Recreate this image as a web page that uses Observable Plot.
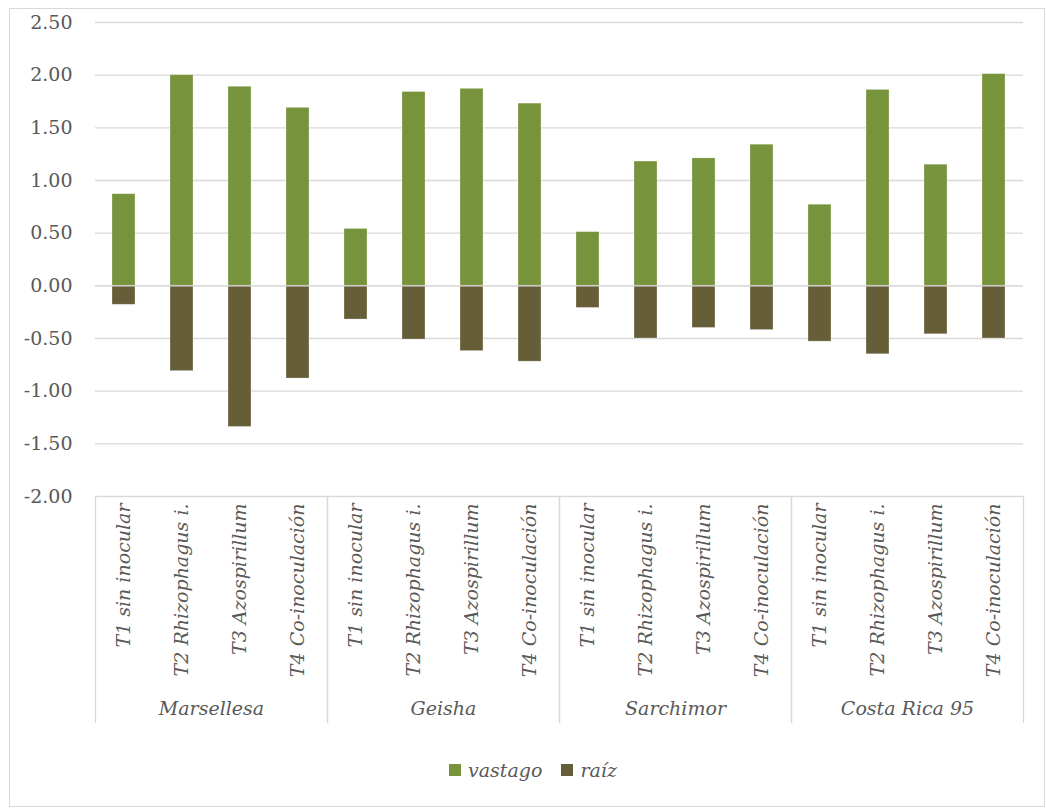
<!DOCTYPE html>
<html>
<head>
<meta charset="utf-8">
<script src="https://cdn.jsdelivr.net/npm/d3@7"></script>
<script src="https://cdn.jsdelivr.net/npm/@observablehq/plot@0.6"></script>
<style>
  html, body { margin: 0; padding: 0; background: #fff; }
  #frame { position: absolute; left: 9px; top: 8px; width: 1036px; height: 799px; border: 1px solid #d9d9d9; box-sizing: border-box; overflow: hidden; }
  #chart { position: absolute; left: 0; top: 0; }
  #chart svg text { fill: #595959; font-family: "DejaVu Serif", serif; font-size: 19px !important; }
  g[aria-label="x-axis tick label"] text, g[aria-label="fx-axis tick label"] text { font-style: italic; }
  #legend { position: absolute; left: 439px; top: 750px; display: flex; align-items: center; font-family: "DejaVu Serif", serif; font-style: italic; font-size: 19px; color: #595959; }
  #legend .sw { width: 12px; height: 12px; display: inline-block; margin-right: 7px; }
  #legend .item { display: flex; align-items: center; margin-right: 19px; }
</style>
</head>
<body>
<div id="frame">
  <div id="chart"></div>
  <div id="legend"></div>
</div>
<script>
const varieties = ["Marsellesa", "Geisha", "Sarchimor", "Costa Rica 95"];
const treatments = ["T1 sin inocular", "T2 Rhizophagus i.", "T3 Azospirillum", "T4 Co-inoculación"];
const series = ["vastago", "raíz"];
const colors = ["#77933c", "#665e38"];
// values per variety, in treatment order
const vastago = [
  [0.87, 2.00, 1.89, 1.69],
  [0.54, 1.84, 1.87, 1.73],
  [0.51, 1.18, 1.21, 1.34],
  [0.77, 1.86, 1.15, 2.01]
];
const raiz = [
  [-0.18, -0.81, -1.34, -0.88],
  [-0.32, -0.51, -0.62, -0.72],
  [-0.21, -0.50, -0.40, -0.42],
  [-0.53, -0.65, -0.46, -0.50]
];
const yTicks = [-2, -1.5, -1, -0.5, 0, 0.5, 1, 1.5, 2, 2.5];

const data = [];
varieties.forEach((v, i) => {
  treatments.forEach((t, j) => {
    data.push({variety: v, treatment: t, series: series[0], value: vastago[i][j]});
    data.push({variety: v, treatment: t, series: series[1], value: raiz[i][j]});
  });
});

const plotHeight = 725;
const marginBottom = 238;
const marginTop = 13;
const innerH = plotHeight - marginTop - marginBottom;

const chart = Plot.plot({
  width: 1034,
  height: plotHeight,
  marginLeft: 85,
  marginRight: 21,
  marginTop: marginTop,
  marginBottom: marginBottom,
  style: {fontFamily: "DejaVu Serif, serif", fontSize: "19px", color: "#595959", background: "transparent", overflow: "visible"},
  fx: {domain: varieties, padding: 0, label: null},
  x: {domain: treatments, paddingInner: 0.6, paddingOuter: 0.3, label: null},
  y: {domain: [-2, 2.5], label: null},
  color: {domain: series, range: colors},
  marks: [
    Plot.ruleY(yTicks, {y: d => d, stroke: "#d9d9d9", strokeWidth: 1.3}),
    Plot.barY(data, {fx: "variety", x: "treatment", y: "value", fill: "series", stroke: "#ffffff", strokeOpacity: 0.35, strokeWidth: 0.8}),
    Plot.ruleY([0], {stroke: "#d9d9d9", strokeWidth: 1.3}),
    Plot.frame({anchor: "left", stroke: "#d9d9d9", strokeWidth: 1.3, insetTop: innerH, insetBottom: -226}),
    Plot.frame({anchor: "right", stroke: "#d9d9d9", strokeWidth: 1.3, insetTop: innerH, insetBottom: -226}),
    Plot.axisY({ticks: yTicks, tickSize: 0, tickPadding: 23, tickFormat: d => d.toFixed(2), label: null}),
    Plot.axisX({tickSize: 0, tickPadding: 7, tickRotate: -90, label: null}),
    Plot.axisFx({anchor: "bottom", tickSize: 0, tickPadding: 205, label: null})
  ]
});
document.getElementById("chart").appendChild(chart);

const legend = document.getElementById("legend");
series.forEach((s, i) => {
  const item = document.createElement("span");
  item.className = "item";
  const sw = document.createElement("span");
  sw.className = "sw";
  sw.style.background = colors[i];
  item.appendChild(sw);
  item.appendChild(document.createTextNode(s));
  legend.appendChild(item);
});
</script>
</body>
</html>
